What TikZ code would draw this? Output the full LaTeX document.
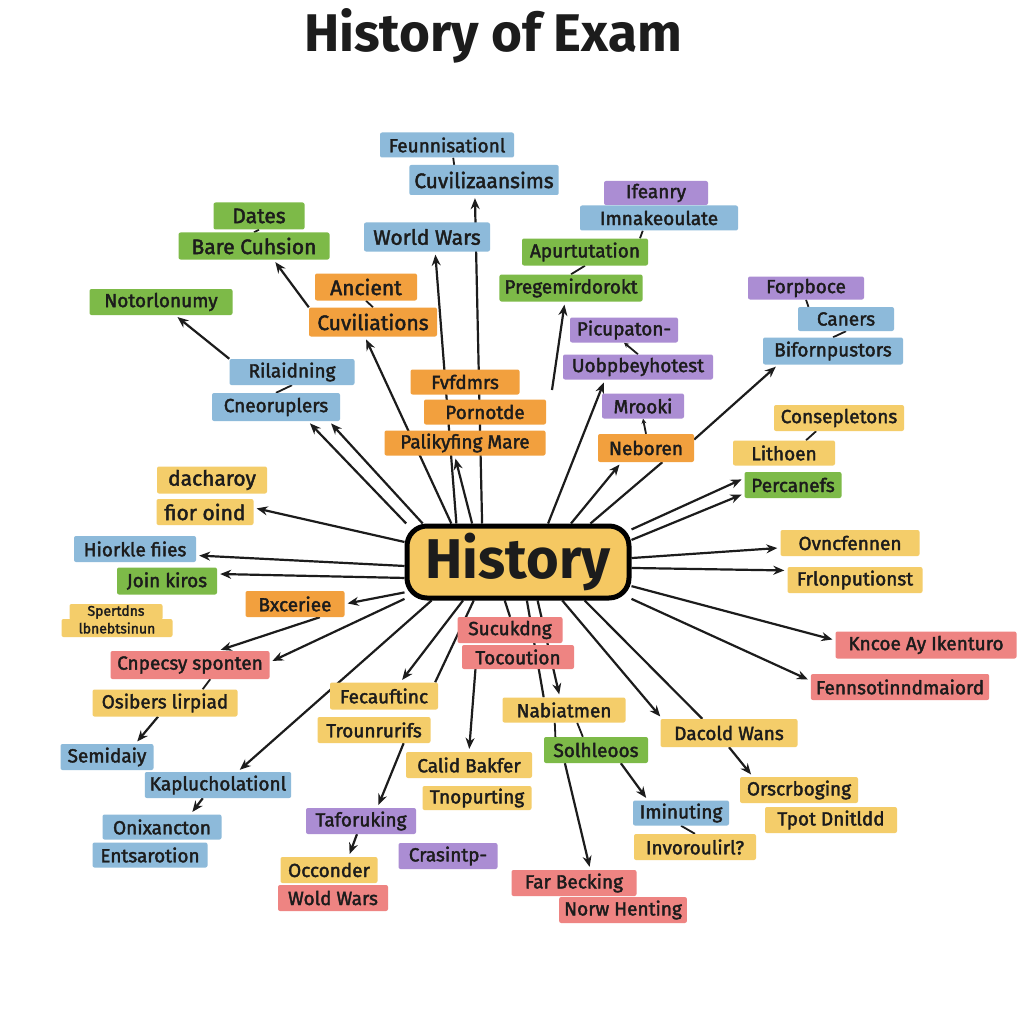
\documentclass[tikz,border=0pt]{standalone}
\usepackage{fontspec}
\setmainfont{Fira Sans}
\newfontfamily\labelfont{Fira Sans}[FakeBold=2]
\usepackage{tikz}
\usetikzlibrary{arrows.meta}
\definecolor{ink}{HTML}{1C1C1C}
\definecolor{boxblue}{HTML}{8DBADA}
\definecolor{boxgreen}{HTML}{7DBA48}
\definecolor{boxorange}{HTML}{F2A03E}
\definecolor{boxyellow}{HTML}{F4CD6A}
\definecolor{boxpurple}{HTML}{AB8DD3}
\definecolor{boxred}{HTML}{EE8482}
\definecolor{histfill}{HTML}{F5C862}
\pgfdeclarelayer{paper}
\pgfdeclarelayer{links}
\pgfsetlayers{paper,links,main}

\begin{document}
\begin{tikzpicture}[x=1pt,y=-1pt,
  lbl/.style={rounded corners=2pt, minimum height=26, inner xsep=5pt, inner ysep=1pt,
    text=ink, font=\labelfont\fontsize{19}{22}\selectfont},
  big/.style={font=\labelfont\fontsize{21}{24}\selectfont},
  tiny/.style={font=\labelfont\fontsize{14}{16}\selectfont, minimum height=16, inner xsep=3pt, inner ysep=0pt},
  bluebox/.style={lbl, fill=boxblue},
  greenbox/.style={lbl, fill=boxgreen},
  orangebox/.style={lbl, fill=boxorange},
  yellowbox/.style={lbl, fill=boxyellow},
  purplebox/.style={lbl, fill=boxpurple},
  redbox/.style={lbl, fill=boxred},
  hist/.style={draw=black, line width=5pt, fill=histfill, rounded corners=20pt,
    minimum width=222, minimum height=72, text=ink, font=\bfseries\fontsize{56}{60}\selectfont},
  link/.style={line width=2.2pt, draw=ink, -{Stealth[length=11pt,width=9pt]}, shorten >=3pt},
  plain/.style={line width=2.2pt, draw=ink},
  tick/.style={line width=1.8pt, draw=ink},
  uptick/.style={line width=1.8pt, draw=ink, -{Stealth[length=5pt,width=5pt]}}]

\begin{pgfonlayer}{paper}
\fill[white] (0,0) rectangle (1024,1024);
\end{pgfonlayer}
\useasboundingbox (0,0) rectangle (1024,1024);

\node[text=ink, font=\bfseries\fontsize{53}{58}\selectfont] (title) at (493,36) {History of Exam};
\node[hist] (hist) at (518,562) {History};

% upper part
\node[bluebox, minimum width=134, minimum height=25] (feun) at (447,145) {Feunnisationl};
\node[bluebox, big, minimum width=148, minimum height=30] (cuviz) at (484,180) {Cuvilizaansims};
\node[greenbox, big, minimum width=91, minimum height=27] (dates) at (259,216) {Dates};
\node[greenbox, big, minimum width=151, minimum height=27] (bare) at (254,246) {Bare Cuhsion};
\node[bluebox, big, minimum width=126, minimum height=29] (wwars) at (427,237) {World Wars};
\node[orangebox, big, minimum width=102, minimum height=27] (anc) at (366,287) {Ancient};
\node[orangebox, big, minimum width=128, minimum height=29] (cuvi) at (373,322) {Cuviliations};
\node[greenbox, minimum width=143] (noto) at (161,302) {Notorlonumy};
\node[purplebox, minimum width=104, minimum height=24] (ifea) at (656,193) {Ifeanry};
\node[bluebox, minimum width=158, minimum height=25] (imna) at (659,218) {Imnakeoulate};
\node[greenbox, minimum width=126, minimum height=27] (apur) at (585,252) {Apurtutation};
\node[greenbox, minimum width=143, minimum height=27] (preg) at (571,288) {Pregemirdorokt};
\node[purplebox, minimum width=116, minimum height=23] (forp) at (806,288) {Forpboce};
\node[bluebox, minimum width=96, minimum height=24] (cane) at (846,319) {Caners};
\node[bluebox, minimum width=140, minimum height=27] (bifo) at (833,351) {Bifornpustors};
\node[purplebox, minimum width=108, minimum height=25] (picu) at (624,330) {Picupaton-};
\node[purplebox, minimum width=150, minimum height=25] (uobp) at (638,367) {Uobpbeyhotest};
\node[bluebox, minimum width=125] (rila) at (292,372) {Rilaidning};
\node[bluebox, minimum width=128, minimum height=28] (cneo) at (276,407) {Cneoruplers};
\node[orangebox, minimum width=109, minimum height=25] (fvfd) at (465,382) {Fvfdmrs};
\node[orangebox, minimum width=122, minimum height=25] (porn) at (485,412) {Pornotde};
\node[orangebox, minimum width=161, minimum height=25] (pali) at (465,443) {Palikyfing Mare};
\node[purplebox, minimum width=82, minimum height=25] (mroo) at (643,406) {Mrooki};
\node[orangebox, minimum width=96, minimum height=28] (nebo) at (646,448) {Neboren};
\node[yellowbox, minimum width=130] (cons) at (839,418) {Consepletons};
\node[yellowbox, minimum width=102, minimum height=25] (lith) at (784,453) {Lithoen};
\node[greenbox, minimum width=97] (perc) at (793,485) {Percanefs};

% left part
\node[yellowbox, big, minimum width=110, minimum height=27] (dach) at (212,480) {dacharoy};
\node[yellowbox, big, minimum width=97] (fior) at (205,512) {fior oind};
\node[bluebox, minimum width=122] (hior) at (135,549) {Hiorkle fiies};
\node[greenbox, minimum width=100, minimum height=27] (join) at (167,581) {Join kiros};
\node[yellowbox, tiny, minimum width=93] (sper) at (116,612) {Spertdns};
\node[yellowbox, tiny, minimum width=111, minimum height=18] (lbne) at (117,628) {lbnebtsinun};
\node[orangebox, minimum width=99] (bxce) at (295,604) {Bxceriee};
\node[redbox, minimum width=159, minimum height=28] (cnpe) at (190,665) {Cnpecsy sponten};
\node[yellowbox, minimum width=145, minimum height=27] (osib) at (165,703) {Osibers lirpiad};
\node[bluebox, minimum width=93] (semi) at (107,757) {Semidaiy};
\node[bluebox, minimum width=143] (kapl) at (218,785) {Kaplucholationl};
\node[bluebox, minimum width=119, minimum height=25] (onix) at (162,827) {Onixancton};
\node[bluebox, minimum width=115, minimum height=25] (ents) at (150,855) {Entsarotion};

% lower part
\node[redbox, minimum width=105] (sucu) at (510,630) {Sucukdng};
\node[redbox, minimum width=112, minimum height=24] (toco) at (518,657) {Tocoution};
\node[yellowbox, minimum width=108, minimum height=27] (fecau) at (384,696) {Fecauftinc};
\node[yellowbox, minimum width=113] (trou) at (374,730) {Trounrurifs};
\node[yellowbox, minimum width=126] (cali) at (469,765) {Calid Bakfer};
\node[yellowbox, minimum width=109, minimum height=24] (tnop) at (477,798) {Tnopurting};
\node[yellowbox, minimum width=123, minimum height=25] (nabi) at (564,710) {Nabiatmen};
\node[greenbox, minimum width=104] (solh) at (596,750) {Solhleoos};
\node[yellowbox, minimum width=137, minimum height=28] (daco) at (729,733) {Dacold Wans};
\node[bluebox, minimum width=96, minimum height=25] (imin) at (681,813) {Iminuting};
\node[yellowbox, minimum width=122] (invo) at (695,847) {Invoroulirl?};
\node[yellowbox, minimum width=118] (orsc) at (799,790) {Orscrboging};
\node[yellowbox, minimum width=132] (tpot) at (831,820) {Tpot Dnitldd};
\node[purplebox, minimum width=110] (tafo) at (361,821) {Taforuking};
\node[purplebox, minimum width=99] (cras) at (448,856) {Crasintp-};
\node[yellowbox, minimum width=97] (occo) at (329,870) {Occonder};
\node[redbox, minimum width=110] (wold) at (333,898) {Wold Wars};
\node[redbox, minimum width=125] (farb) at (574,883) {Far Becking};
\node[redbox, minimum width=122] (norw) at (623,910) {Norw Henting};

% right part
\node[yellowbox, minimum width=139] (ovnc) at (850,543) {Ovncfennen};
\node[yellowbox, minimum width=135] (frlo) at (855,580) {Frlonputionst};
\node[redbox, minimum width=181, minimum height=27] (knco) at (926,645) {Kncoe Ay Ikenturo};
\node[redbox, minimum width=174] (fenn) at (900,687) {Fennsotinndmaiord};

\begin{pgfonlayer}{links}
% from the centre
\draw[link] (hist.161) -- (cneo.-24);
\draw[link] (hist.158) -- (cneo.-15);
\draw[link] (hist.150) -- (cuvi.241);
\draw[link] (hist.148) -- (wwars.-61);
\draw[link] (hist.140) -- (pali.231);
\draw[link] (hist.133) -- (cuviz.-121);
\draw[link] (hist.52) -- (uobp.201);
\draw[link] (hist.36) -- (nebo.210);
\draw[plain] (hist.28) -- (nebo.-41);
\draw[link] (hist.16) -- (perc.172);
\draw[link] (hist.11) -- (perc.190);
\draw[link] (hist.2) -- (ovnc.184);
\draw[link] (hist.-3) -- (frlo.172);
\draw[link] (hist.-12) -- (knco.177);
\draw[link] (hist.-18) -- (fenn.176);
\draw[link] (hist.-41) -- (daco.168);
\draw[plain] (hist.-30) -- (daco.152);
\draw[link] (hist.-63) -- (nabi.108);
\draw[plain] (hist.-77) -- (nabi.148);
\draw[plain] (hist.251) -- (sucu.north);
\draw[link] (hist.215) -- (fecau.40);
\draw[plain] (hist.221) -- (fecau.15);
\draw[link] (hist.204) -- (kapl.34);
\draw[link] (hist.198) -- (cnpe.2);
\draw[link] (hist.195) -- (bxce.east);
\draw[link] (hist.188) -- (join.8);
\draw[link] (hist.182) -- (hior.-6);
\draw[link] (hist.170) -- (fior.5);
% between boxes
\coordinate (pfree) at (552,390);
\draw[link] (pfree) -- (preg.-114);
\draw[link] (nebo.10) -- (bifo.194);
\draw[link] (daco.south) -- (orsc.164);
\draw[link] (bxce.-28) -- (cnpe.27);
\draw[link] (kapl.221) -- (onix.24);
\draw[link] (osib.243) -- (semi.25);
\draw[link] (trou.-24) -- (tafo.39);
\draw[link] (tafo.253) -- (occo.34);
\draw[link] (toco.196) -- (cali.north);
\draw[link] (solh.203) -- (farb.39);
\draw[link] (solh.-28) -- (imin.159);
\draw[link] (rila.north west) -- (noto.-43);
\draw[link] (cuvi.north west) -- (bare.-35);
\draw[tick] (cnpe.-35) -- (osib.20);
\draw[tick] (nabi.234) -- (solh.162);
\draw[tick] (nabi.-44) -- (solh.135);
\draw[tick] (anc.south) -- (cuvi.north);
\draw[tick] (dates.south) -- (bare.north);
\draw[tick] (feun.-64) -- (cuviz.153);
\draw[tick] (imna.218) -- (apur.14);
\draw[tick] (apur.south) -- (preg.north);
\draw[tick] (forp.south) -- (cane.162);
\draw[tick] (cane.south) -- (bifo.north);
\draw[tick] (cons.-150) -- (lith.30);
\draw[tick] (rila.south) -- (cneo.north);
\draw[tick] (imin.south) -- (invo.north);
\draw[uptick] (uobp.north) -- (picu.south);
\draw[uptick] (nebo.north) -- (mroo.south);
\end{pgfonlayer}
\end{tikzpicture}
\end{document}
